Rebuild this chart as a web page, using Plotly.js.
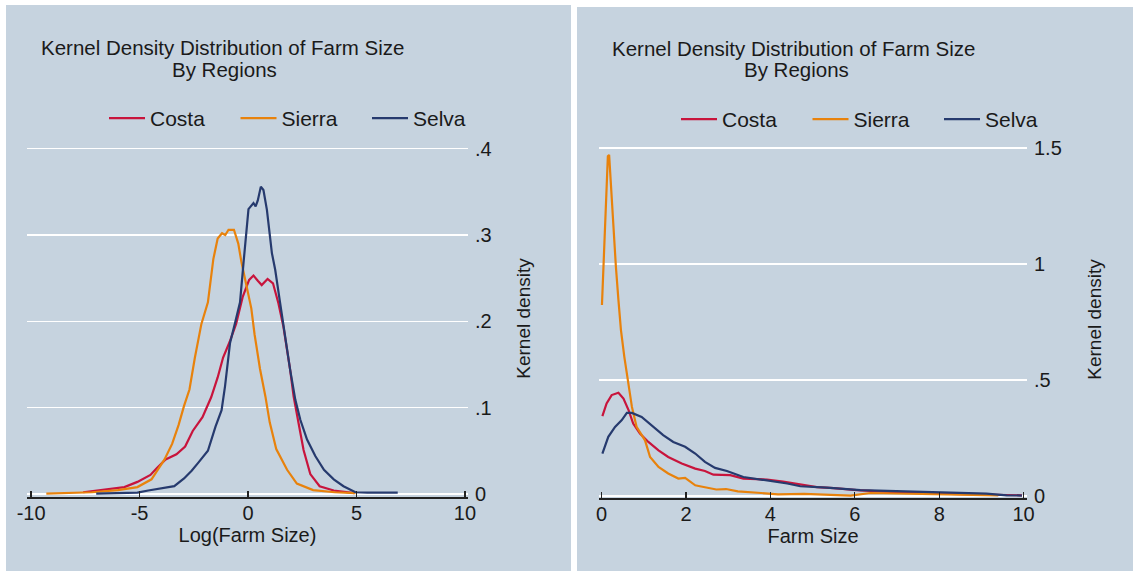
<!DOCTYPE html>
<html><head><meta charset="utf-8">
<script src="https://cdn.plot.ly/plotly-3.0.1.min.js"></script>
<style>
html,body{margin:0;padding:0;background:#ffffff;width:1133px;height:571px;overflow:hidden;}
#left{position:absolute;left:6px;top:5px;width:565px;height:566px;}
#right{position:absolute;left:577px;top:7px;width:556px;height:564px;}
</style></head><body>
<div id="left"></div><div id="right"></div>
<script>
// ---------- data ----------
const seriesNames = ["Costa", "Sierra", "Selva"];
const titleLine1 = "Kernel Density Distribution of Farm Size";
const titleLine2 = "By Regions";
const leftXTitle = "Log(Farm Size)";
const rightXTitle = "Farm Size";
const yTitle = "Kernel density";

const leftXTicks = [-10, -5, 0, 5, 10];
const leftXTickText = ["-10", "-5", "0", "5", "10"];
const leftYTicks = [0, 0.1, 0.2, 0.3, 0.4];
const leftYTickText = ["0", ".1", ".2", ".3", ".4"];
const rightXTicks = [0, 2, 4, 6, 8, 10];
const rightXTickText = ["0", "2", "4", "6", "8", "10"];
const rightYTicks = [0, 0.5, 1, 1.5];
const rightYTickText = ["0", ".5", "1", "1.5"];

// Left panel: density of log(farm size)
const costaLogX = [-7.6,-7.0,-6.3,-5.7,-5.1,-4.5,-4.2,-3.8,-3.3,-2.9,-2.55,-2.1,-1.7,-1.4,-1.15,-0.85,-0.55,-0.25,0.05,0.25,0.45,0.63,0.9,1.15,1.4,1.63,1.94,2.1,2.33,2.56,2.87,3.3,3.95,4.9];
const costaLogY = [0.002,0.004,0.006,0.008,0.014,0.022,0.030,0.040,0.046,0.055,0.073,0.089,0.112,0.135,0.158,0.176,0.197,0.228,0.248,0.253,0.247,0.242,0.249,0.244,0.221,0.194,0.144,0.113,0.082,0.051,0.023,0.009,0.004,0.001];
const sierraLogX = [-9.3,-8.0,-7.2,-6.0,-5.1,-4.45,-4.15,-3.85,-3.5,-3.2,-2.95,-2.7,-2.45,-2.15,-1.85,-1.6,-1.4,-1.2,-1.05,-0.9,-0.65,-0.45,-0.3,-0.1,0.15,0.3,0.55,0.8,1.0,1.3,1.8,2.25,3.0,4.0,4.95];
const sierraLogY = [0.0005,0.001,0.002,0.0045,0.008,0.017,0.028,0.040,0.058,0.080,0.102,0.121,0.158,0.197,0.222,0.272,0.296,0.302,0.300,0.306,0.306,0.290,0.268,0.245,0.215,0.185,0.145,0.113,0.083,0.052,0.028,0.012,0.0045,0.002,0.001];
const selvaLogX = [-7.0,-6.0,-5.1,-4.6,-4.15,-3.4,-2.95,-2.6,-2.3,-1.85,-1.5,-1.22,-1.06,-0.83,-0.6,-0.37,-0.2,-0.1,0.02,0.25,0.35,0.45,0.59,0.71,0.87,1.1,1.25,1.48,1.71,1.94,2.18,2.41,2.72,3.1,3.5,3.95,4.4,4.95,5.5,6.9];
const selvaLogY = [0.0005,0.001,0.0015,0.004,0.006,0.009,0.018,0.027,0.036,0.050,0.078,0.097,0.125,0.175,0.198,0.222,0.270,0.300,0.330,0.337,0.333,0.340,0.356,0.352,0.329,0.279,0.260,0.221,0.182,0.144,0.109,0.086,0.063,0.044,0.028,0.017,0.009,0.002,0.0015,0.0015];

// Right panel: density of farm size
const costaX = [0.02,0.12,0.24,0.4,0.52,0.64,0.75,0.91,1.11,1.35,1.58,1.9,2.22,2.45,2.65,3.05,3.36,3.92,4.3,4.71,5.1,5.5,6.05,6.68,7.3,7.86,8.5,9.05,9.5,9.96];
const costaY = [0.344,0.399,0.435,0.445,0.42,0.37,0.312,0.269,0.233,0.197,0.168,0.14,0.118,0.108,0.092,0.09,0.075,0.071,0.062,0.05,0.038,0.034,0.025,0.019,0.014,0.011,0.008,0.007,0.005,0.003];
const sierraX = [0.01,0.03,0.07,0.11,0.15,0.18,0.22,0.28,0.34,0.4,0.46,0.54,0.64,0.72,0.83,1.03,1.15,1.35,1.58,1.82,1.98,2.22,2.33,2.72,2.95,3.23,3.78,4.18,4.8,5.34,5.9,6.37,7.3,8.5,9.4];
const sierraY = [0.823,0.917,1.118,1.32,1.464,1.47,1.349,1.133,0.989,0.845,0.715,0.6,0.47,0.384,0.298,0.24,0.168,0.125,0.097,0.075,0.078,0.046,0.042,0.028,0.03,0.02,0.013,0.007,0.009,0.004,0.002,0.013,0.009,0.007,0.003];
const selvaX = [0.02,0.16,0.32,0.48,0.6,0.72,0.95,1.23,1.46,1.7,1.98,2.22,2.45,2.69,2.97,3.36,3.92,4.4,4.71,5.34,6.13,7.23,8.1,9.12,9.6,9.96];
const selvaY = [0.183,0.255,0.298,0.327,0.358,0.358,0.341,0.298,0.262,0.233,0.212,0.183,0.147,0.121,0.108,0.082,0.068,0.054,0.042,0.036,0.025,0.020,0.015,0.010,0.003,0.002];

// ---------- style ----------
const colors = ["#c8143c", "#e8820c", "#263a6e"];
const BG = "#c6d3df";
const FONT = "Liberation Sans, Arial, sans-serif";
const TXT = "#1a1a1a";

function makePanel(divId, cfg) {
  const W = cfg.W, H = cfg.H;
  const xs = [cfg.cx, cfg.sx, cfg.vx], ys = [cfg.cy, cfg.sy, cfg.vy];
  const traces = seriesNames.map((n, i) => ({
    type: "scatter", mode: "lines", name: n, x: xs[i], y: ys[i],
    line: {color: colors[i], width: 2.2}, hoverinfo: "skip"
  }));
  const pl = cfg.plotL - cfg.divL, pr = cfg.plotR - cfg.divL;
  const pt = cfg.plotT - cfg.divT, pb = cfg.plotB - cfg.divT;
  const fx = px => (px - cfg.plotL) / (cfg.plotR - cfg.plotL);
  const fy = py => (cfg.plotB - py) / (cfg.plotB - cfg.plotT);
  const layout = {
    width: W, height: H,
    paper_bgcolor: BG, plot_bgcolor: BG,
    margin: {l: pl, r: W - pr, t: pt, b: H - pb, pad: 0},
    font: {family: FONT, color: TXT, size: 20},
    showlegend: true,
    legend: {
      orientation: "h", xref: "container", yref: "container",
      x: (cfg.legL - cfg.divL) / W, y: 1 - (cfg.legT - cfg.divT) / H,
      xanchor: "left", yanchor: "top", bgcolor: "rgba(0,0,0,0)",
      font: {family: FONT, size: 21, color: TXT},
      itemwidth: 36, entrywidth: 80.5, entrywidthmode: "pixels"
    },
    xaxis: {
      range: cfg.xr, tickvals: cfg.xt, ticktext: cfg.xtt,
      showgrid: false, zeroline: false,
      showline: true, linecolor: "#222", linewidth: 1.6,
      ticks: "inside", ticklen: 6, tickwidth: 1.4, tickcolor: "#222",
      tickfont: {family: FONT, size: 20, color: TXT},
      ticklabelstandoff: -3,
      title: {text: cfg.xtitle, font: {family: FONT, size: 20, color: TXT}, standoff: 0},
      fixedrange: true
    },
    yaxis: {
      range: cfg.yr, tickvals: cfg.yt, ticktext: cfg.ytt, side: "right",
      showgrid: true, gridcolor: "#ffffff", gridwidth: 1.4,
      zeroline: false, showline: false, ticks: "",
      tickfont: {family: FONT, size: 20, color: TXT},
      ticklabelstandoff: 6,
      title: {text: yTitle, font: {family: FONT, size: 19, color: TXT}, standoff: 26},
      fixedrange: true
    },
    annotations: [
      {text: titleLine1, xref: "paper", yref: "paper", x: fx(cfg.t1x), y: fy(cfg.t1y),
       xanchor: "center", yanchor: "middle", showarrow: false,
       font: {family: FONT, size: 20.5, color: TXT}},
      {text: titleLine2, xref: "paper", yref: "paper", x: fx(cfg.t2x), y: fy(cfg.t2y),
       xanchor: "center", yanchor: "middle", showarrow: false,
       font: {family: FONT, size: 20.5, color: TXT}}
    ]
  };
  Plotly.newPlot(divId, traces, layout, {displayModeBar: false, staticPlot: true});
}

makePanel("left", {
  W: 565, H: 566, divL: 6, divT: 5,
  plotL: 27, plotR: 468, plotT: 140, plotB: 497.5,
  xr: [-10.19, 10.14], yr: [-0.0035, 0.41],
  xt: leftXTicks, xtt: leftXTickText, yt: leftYTicks, ytt: leftYTickText,
  xtitle: leftXTitle,
  cx: costaLogX, cy: costaLogY, sx: sierraLogX, sy: sierraLogY, vx: selvaLogX, vy: selvaLogY,
  legL: 104, legT: 98,
  t1x: 222, t1y: 47, t2x: 224, t2y: 69
});
makePanel("right", {
  W: 556, H: 564, divL: 577, divT: 7,
  plotL: 599, plotR: 1027, plotT: 141.3, plotB: 497.7,
  xr: [-0.06, 10.08], yr: [-0.0086, 1.53],
  xt: rightXTicks, xtt: rightXTickText, yt: rightYTicks, ytt: rightYTickText,
  xtitle: rightXTitle,
  cx: costaX, cy: costaY, sx: sierraX, sy: sierraY, vx: selvaX, vy: selvaY,
  legL: 676, legT: 99,
  t1x: 793, t1y: 49, t2x: 796, t2y: 70
});
</script>
</body></html>
